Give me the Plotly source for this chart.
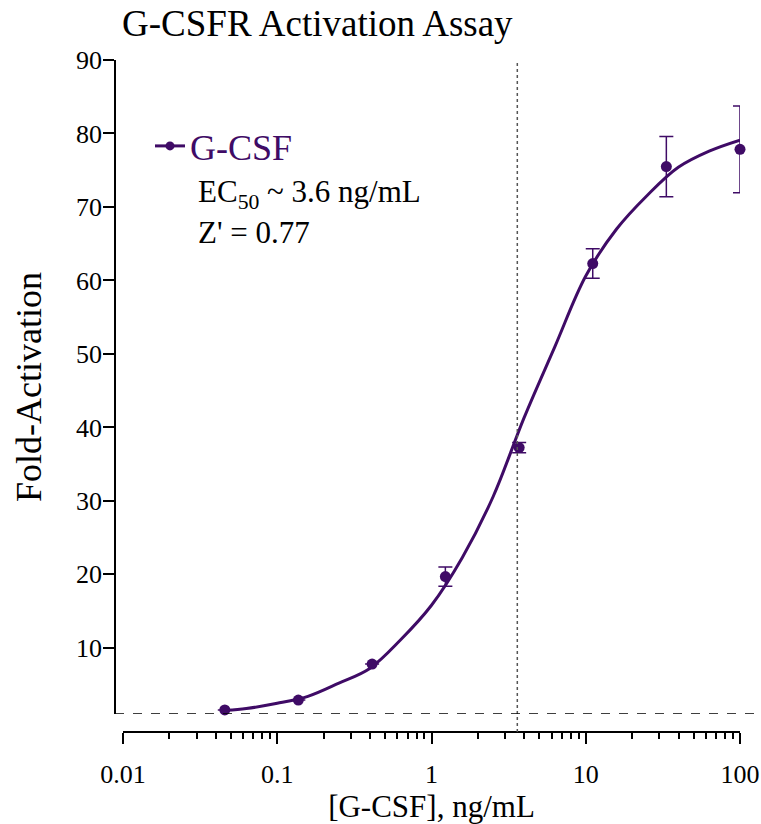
import math
import plotly.graph_objects as go

# ---- data ----
conc = [0.0457, 0.137, 0.412, 1.23, 3.70, 11.1, 33.3, 100.0]
fold = [1.56, 2.9, 7.8, 19.7, 37.25, 62.3, 75.5, 77.85]
err = [0.0, 0.0, 0.0, 1.3, 0.7, 2.0, 4.1, 5.9]

# fitted curve
curve_x = [0.0466, 0.063, 0.1, 0.158, 0.251, 0.398, 0.631, 1.0, 1.585, 2.512,
           3.98, 6.31, 10.0, 15.85, 25.1, 39.8, 63.1, 100.0]
curve_y = [1.5, 1.75, 2.45, 3.4, 5.2, 7.2, 11.1, 15.8, 22.3, 30.6,
           41.3, 51.0, 60.6, 67.0, 71.6, 75.4, 77.6, 79.1]

ec50 = 3.6
baseline = 1.0
x_ticks = [0.01, 0.1, 1, 10, 100]
x_ticktext = ["0.01", "0.1", "1", "10", "100"]
y_ticks = [10, 20, 30, 40, 50, 60, 70, 80, 90]

PURPLE = "#3f0b66"
FONT = "Liberation Serif"
W, H = 761, 824


def px(x):
    return x / W


def py(y):
    return 1 - y / H


fig = go.Figure()
fig.add_trace(go.Scatter(x=curve_x, y=curve_y, mode="lines", line=dict(color=PURPLE, width=3, shape="spline"),
                         showlegend=False, hoverinfo="skip", cliponaxis=False))
fig.add_trace(go.Scatter(x=conc, y=fold, mode="markers", marker=dict(color=PURPLE, size=11),
                         error_y=dict(type="data", array=err, visible=True, color=PURPLE, thickness=1.5, width=7),
                         showlegend=False, cliponaxis=False))
# legend entry
fig.add_trace(go.Scatter(x=[None], y=[None], mode="lines+markers", name="G-CSF",
                         line=dict(color=PURPLE, width=3), marker=dict(color=PURPLE, size=9)))

x_dom = [px(123), px(740)]
y_dom = [py(714), py(60)]
x_pos = py(732)
y_pos = px(115)

fig.update_layout(
    width=W, height=H,
    margin=dict(l=0, r=0, t=0, b=0, autoexpand=False),
    paper_bgcolor="white", plot_bgcolor="white",
    font=dict(family=FONT, color="black"),
    xaxis=dict(type="log", range=[-2, 2], domain=x_dom, anchor="free", position=x_pos, automargin=False,
               showline=True, linecolor="black", linewidth=1.5, showgrid=False, zeroline=False,
               ticks="outside", ticklen=11, tickwidth=1.5, tickcolor="black",
               tickmode="array", tickvals=x_ticks, ticktext=x_ticktext,
               tickfont=dict(size=26, family=FONT), ticklabelstandoff=8,
               minor=dict(ticks="outside", ticklen=6, tickwidth=1.5, tickcolor="black", dtick="D1"),
               title=dict(text="[G-CSF], ng/mL", font=dict(size=31, family=FONT), standoff=10)),
    yaxis=dict(range=[1, 90], domain=y_dom, anchor="free", position=y_pos, automargin=False,
               showline=True, linecolor="black", linewidth=1.5, showgrid=False, zeroline=False,
               ticks="outside", ticklen=11, tickwidth=1.5, tickcolor="black",
               tickmode="array", tickvals=y_ticks,
               tickfont=dict(size=26, family=FONT), ticklabelstandoff=-4,
               title=dict(text="Fold-Activation", font=dict(size=36, family=FONT), standoff=22)),
    legend=dict(x=px(150), y=py(116), xanchor="left", yanchor="top",
                font=dict(size=36, family=FONT, color=PURPLE), bgcolor="rgba(0,0,0,0)",
                itemwidth=30),
    showlegend=True,
)

fig.add_shape(type="line", xref="x", yref="paper", x0=ec50, x1=ec50,
              y0=x_pos, y1=y_dom[1], line=dict(color="#555555", width=1.5, dash="dot"))
fig.add_shape(type="line", xref="paper", yref="y", x0=y_pos, x1=1.0, y0=baseline, y1=baseline,
              line=dict(color="black", width=1.5, dash="dash"))

fig.add_annotation(text="G-CSFR Activation Assay", xref="paper", yref="paper", x=px(120), y=py(24),
                   xanchor="left", yanchor="middle", showarrow=False, font=dict(size=37, family=FONT, color="black"))
fig.add_annotation(text="EC<sub>50</sub> ~ 3.6 ng/mL", xref="paper", yref="paper", x=px(196), y=py(194),
                   xanchor="left", yanchor="middle", showarrow=False, font=dict(size=31, family=FONT, color="black"))
fig.add_annotation(text="Z' = 0.77", xref="paper", yref="paper", x=px(196), y=py(232),
                   xanchor="left", yanchor="middle", showarrow=False, font=dict(size=31, family=FONT, color="black"))

fig.write_html("out.html", config={"displayModeBar": False},
               post_script="document.body.style.margin='0';document.body.style.overflow='hidden';")
